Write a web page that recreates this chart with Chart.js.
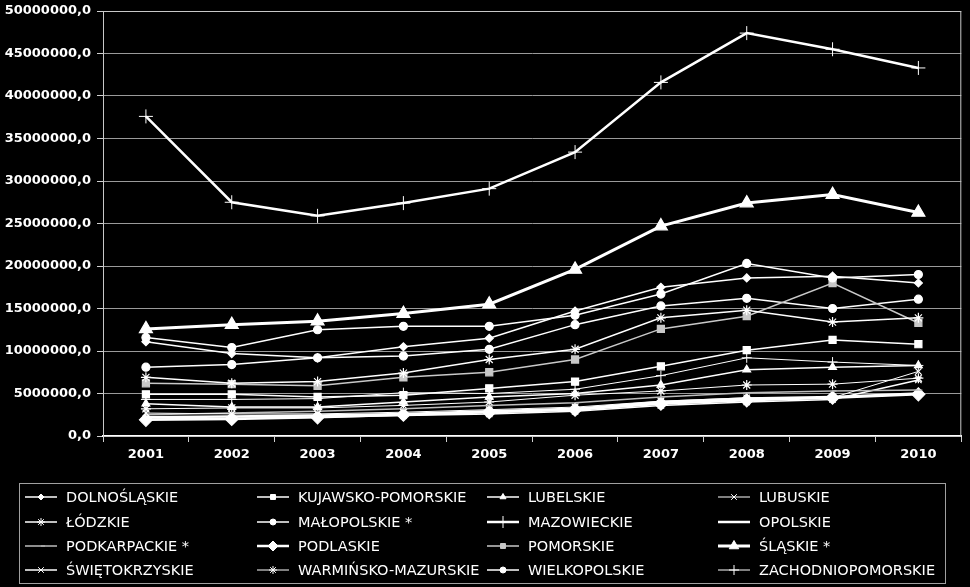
<!DOCTYPE html>
<html>
<head>
<meta charset="utf-8">
<script src="https://cdn.jsdelivr.net/npm/chart.js@4.4.1/dist/chart.umd.min.js"></script>
<style>
  html, body { margin: 0; padding: 0; background: #000; }
  #wrap { width: 970px; height: 587px; }
</style>
</head>
<body>
<div id="wrap"><canvas id="regionsChart"></canvas></div>
<script>
var years = ["2001", "2002", "2003", "2004", "2005", "2006", "2007", "2008", "2009", "2010"];

var regionNames = [
    "DOLNOŚLĄSKIE", "KUJAWSKO-POMORSKIE", "LUBELSKIE", "LUBUSKIE",
    "ŁÓDZKIE", "MAŁOPOLSKIE *", "MAZOWIECKIE", "OPOLSKIE",
    "PODKARPACKIE *", "PODLASKIE", "POMORSKIE", "ŚLĄSKIE *",
    "ŚWIĘTOKRZYSKIE", "WARMIŃSKO-MAZURSKIE", "WIELKOPOLSKIE", "ZACHODNIOPOMORSKIE"
];

// values
var dolnoslaskie = [11100000, 9700000, 9200000, 10500000, 11500000, 14700000, 17500000, 18600000, 18800000, 18000000];
var kujawskoPomorskie = [4900000, 4900000, 4600000, 4800000, 5600000, 6400000, 8200000, 10100000, 11300000, 10800000];
var lubelskie = [3800000, 3400000, 3400000, 4000000, 4600000, 5000000, 6000000, 7800000, 8100000, 8300000];
var lubuskie = [2700000, 2600000, 2600000, 2800000, 3100000, 3400000, 4100000, 4500000, 4500000, 7600000];
var lodzkie = [6900000, 6200000, 6400000, 7400000, 9000000, 10200000, 13900000, 14800000, 13400000, 13900000];
var malopolskie = [11600000, 10400000, 12500000, 12900000, 12900000, 14200000, 16700000, 20300000, 18600000, 19000000];
var mazowieckie = [37600000, 27500000, 25900000, 27400000, 29100000, 33400000, 41600000, 47400000, 45500000, 43300000];
var opolskie = [2200000, 2300000, 2400000, 2600000, 2900000, 3200000, 4000000, 4400000, 4600000, 5000000];
var podkarpackie = [2500000, 2700000, 2900000, 3200000, 3600000, 3900000, 4600000, 5100000, 5300000, 5400000];
var podlaskie = [1900000, 2000000, 2200000, 2500000, 2800000, 3100000, 3800000, 4200000, 4500000, 4900000];
var pomorskie = [6200000, 6100000, 5900000, 6900000, 7500000, 9000000, 12600000, 14100000, 18000000, 13300000];
var slaskie = [12600000, 13100000, 13500000, 14400000, 15500000, 19600000, 24700000, 27400000, 28400000, 26300000];
var swietokrzyskie = [2000000, 2100000, 2200000, 2400000, 2600000, 2900000, 3600000, 4000000, 4300000, 6600000];
var warminskoMazurskie = [3200000, 3300000, 3300000, 3600000, 4000000, 4800000, 5300000, 6000000, 6100000, 6800000];
var wielkopolskie = [8100000, 8400000, 9200000, 9400000, 10200000, 13100000, 15300000, 16200000, 15000000, 16100000];
var zachodniopomorskie = [4300000, 4300000, 4400000, 5100000, 5000000, 5500000, 7100000, 9200000, 8700000, 8300000];

var seriesValues = [
    dolnoslaskie, kujawskoPomorskie, lubelskie, lubuskie,
    lodzkie, malopolskie, mazowieckie, opolskie,
    podkarpackie, podlaskie, pomorskie, slaskie,
    swietokrzyskie, warminskoMazurskie, wielkopolskie, zachodniopomorskie
];

var yTicks = [0, 5000000, 10000000, 15000000, 20000000, 25000000, 30000000, 35000000, 40000000, 45000000, 50000000];

// marker, marker radius, legend marker radius, line width, colour
var looks = [
    ["rectRot", 4, 3, 1.5, "#fff"],
    ["rect", 5, 3.5, 1.5, "#fff"],
    ["triangle", 4.5, 3.5, 1.5, "#fff"],
    ["crossRot", 4.5, 4, 1, "#fff"],
    ["star", 5, 4, 1.5, "#fff"],
    ["circle", 4, 3, 1.5, "#fff"],
    ["cross", 7, 6, 2.5, "#fff"],
    ["dash", 4, 4, 2.5, "#fff"],
    ["dash", 4, 4, 1.5, "#bdbdbd"],
    ["rectRot", 6.5, 5, 2.5, "#fff"],
    ["rect", 5, 3.5, 1.5, "#c8c8c8"],
    ["triangle", 7.5, 5.5, 3, "#fff"],
    ["crossRot", 4.5, 4, 1.5, "#fff"],
    ["star", 5, 4, 1, "#fff"],
    ["circle", 4, 3, 1.5, "#fff"],
    ["cross", 5, 5, 1, "#fff"]
];

var datasets = regionNames.map(function (name, i) {
    var lk = looks[i];
    return {
        label: name,
        data: seriesValues[i],
        borderColor: lk[4],
        backgroundColor: lk[4],
        borderWidth: lk[3],
        pointStyle: lk[0],
        pointRadius: lk[1],
        pointBorderWidth: lk[0] === "cross" ? 1 : 1.2,
        pointBorderColor: lk[4],
        pointBackgroundColor: lk[4],
        legendRadius: lk[2],
        tension: 0
    };
});

// thin box round the plot area
var plotBox = {
    id: "plotBox",
    beforeDatasetsDraw: function (chart) {
        var a = chart.chartArea, ctx = chart.ctx;
        ctx.save();
        ctx.strokeStyle = "#c8c8c8";
        ctx.lineWidth = 1;
        ctx.strokeRect(a.left + 0.5, a.top + 0.5, a.right - a.left - 1, a.bottom - a.top);
        ctx.restore();
    }
};

// 4 x 4 legend below the chart, like the original
var gridLegend = {
    id: "gridLegend",
    afterDraw: function (chart) {
        var ctx = chart.ctx;
        var colX = [25, 257, 487, 718];
        var rowY = [497, 522, 546, 570];
        ctx.save();
        ctx.strokeStyle = "#a0a0a0";
        ctx.lineWidth = 1;
        ctx.strokeRect(19.5, 483.5, 926, 100);
        chart.data.datasets.forEach(function (ds, i) {
            var x = colX[i % 4], y = rowY[Math.floor(i / 4)];
            ctx.strokeStyle = ds.borderColor;
            ctx.lineWidth = ds.borderWidth;
            ctx.beginPath();
            ctx.moveTo(x, y);
            ctx.lineTo(x + 32, y);
            ctx.stroke();
            ctx.fillStyle = ds.borderColor;
            ctx.lineWidth = 1;
            Chart.helpers.drawPoint(ctx, {
                pointStyle: ds.pointStyle,
                radius: ds.legendRadius,
                rotation: 0,
                borderWidth: 1
            }, x + 16, y);
            ctx.fillStyle = "#fff";
            ctx.font = "14.5px 'DejaVu Sans'";
            ctx.textBaseline = "middle";
            ctx.textAlign = "left";
            ctx.fillText(ds.label, x + 41, y + 1);
        });
        ctx.restore();
    }
};

var ctx = document.getElementById("regionsChart").getContext("2d");

var chart = new Chart(ctx, {
    type: "line",
    data: { labels: years, datasets: datasets },
    options: {
        responsive: true,
        maintainAspectRatio: false,
        animation: false,
        layout: { padding: { top: 11, right: 8, left: 0, bottom: 0 } },
        plugins: {
            legend: { display: false },
            tooltip: { enabled: false }
        },
        scales: {
            x: {
                offset: true,
                afterFit: function (scale) { scale.height = 151; },
                grid: {
                    offset: true,
                    drawOnChartArea: false,
                    drawTicks: true,
                    tickLength: 6,
                    tickColor: "#d0d0d0"
                },
                border: { color: "#fff", width: 2 },
                ticks: {
                    color: "#fff",
                    padding: 5,
                    font: { family: "'DejaVu Sans'", size: 13, weight: "bold" }
                }
            },
            y: {
                min: 0,
                max: 50000000,
                afterFit: function (scale) {
                    scale.width = 103;
                    scale.paddingTop = 0;
                    scale.paddingBottom = 0;
                },
                afterBuildTicks: function (scale) {
                    scale.ticks = yTicks.map(function (v) { return { value: v }; });
                },
                grid: {
                    color: "#9a9a9a",
                    lineWidth: 1,
                    tickLength: 6,
                    tickColor: "#d0d0d0"
                },
                border: { color: "#d0d0d0", width: 1 },
                ticks: {
                    color: "#fff",
                    padding: 6,
                    font: { family: "'DejaVu Sans'", size: 13, weight: "bold" },
                    callback: function (v) { return v + ",0"; }
                }
            }
        }
    },
    plugins: [plotBox, gridLegend]
});
</script>
</body>
</html>
